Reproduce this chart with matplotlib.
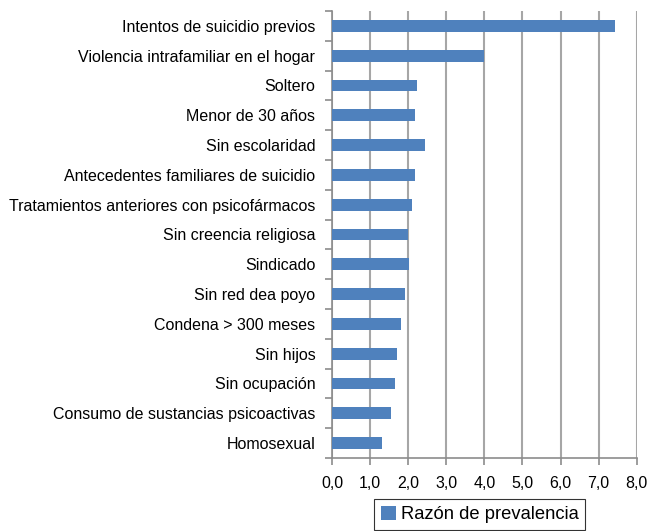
import matplotlib
matplotlib.use("Agg")
import matplotlib.pyplot as plt
import numpy as np
from matplotlib.ticker import FixedLocator, FuncFormatter

plt.rcParams['font.family'] = ['Liberation Sans', 'DejaVu Sans']

categorias = ["Intentos de suicidio previos", "Violencia intrafamiliar en el hogar",
              "Soltero", "Menor de 30 años", "Sin escolaridad",
              "Antecedentes familiares de suicidio",
              "Tratamientos anteriores con psicofármacos",
              "Sin creencia religiosa", "Sindicado", "Sin red dea poyo",
              "Condena > 300 meses", "Sin hijos", "Sin ocupación",
              "Consumo de sustancias psicoactivas", "Homosexual"]
valores = [7.43, 3.99, 2.23, 2.18, 2.44, 2.18, 2.10, 1.99, 2.02, 1.92,
           1.81, 1.71, 1.65, 1.55, 1.31]

fig = plt.figure(figsize=(6.49, 5.31), dpi=100)
ax = fig.add_axes([0.5116, 0.1375, 0.4695, 0.8418])

n = len(categorias)
y = np.arange(n)[::-1]
ax.barh(y, valores, height=0.4, color='#4f81bd', label='Razón de prevalencia', zorder=3)

ax.set_xlim(0, 8)
ax.set_ylim(-0.5, n - 0.5)
ax.set_xticks(np.arange(0, 9, 1))
ax.xaxis.set_major_formatter(FuncFormatter(lambda v, p: f"{v:.1f}".replace('.', ',')))
ax.set_yticks(y)
ax.set_yticklabels(categorias)
ax.yaxis.set_minor_locator(FixedLocator(np.arange(-0.5, n, 1)))
ax.tick_params(axis='y', which='major', length=0, pad=12, labelsize=11.5)
ax.tick_params(axis='y', which='minor', length=5, width=1.2, color='#8c8c8c', direction='out')
ax.tick_params(axis='x', length=5, width=1.2, color='#8c8c8c', labelsize=11.5, pad=8)

ax.grid(axis='x', color='#a6a6a6', linewidth=1.5, zorder=0)
ax.grid(axis='y', visible=False)
for s in ['top', 'right']:
    ax.spines[s].set_visible(False)
for s in ['left', 'bottom']:
    ax.spines[s].set_color('#8c8c8c')
    ax.spines[s].set_linewidth(1.2)

leg = ax.legend(loc='upper center', bbox_to_anchor=(0.485, -0.072), frameon=True,
                fancybox=False, edgecolor='black', fontsize=13.2, handlelength=0.8,
                handleheight=0.8, handletextpad=0.3, borderpad=0.35)
leg.get_frame().set_linewidth(0.8)

fig.savefig("out.png", dpi=100)
